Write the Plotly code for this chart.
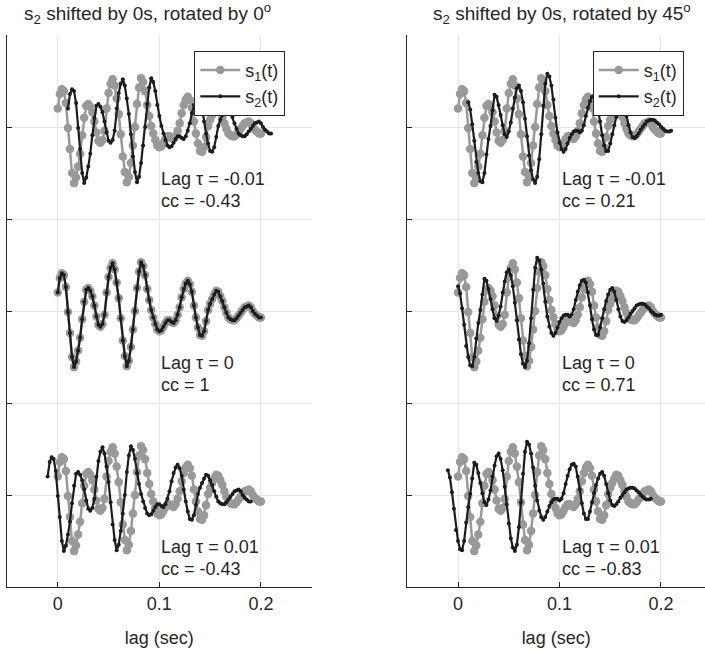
import numpy as np
import plotly.graph_objects as go

# sample times (s), 2 ms spacing
t = np.round(np.arange(101) * 0.002, 3)

# reference signal s1(t)
s1 = [0.20, 0.36, 0.41, 0.39, 0.26, -0.01, -0.24, -0.50, -0.61, -0.55,
      -0.43, -0.29, -0.09, 0.10, 0.23, 0.25, 0.22, 0.16, 0.06, -0.06,
      -0.15, -0.17, -0.14, -0.04, 0.20, 0.37, 0.47, 0.52, 0.45, 0.31,
      0.14, -0.08, -0.32, -0.49, -0.60, -0.54, -0.39, -0.20, 0.00, 0.25,
      0.43, 0.53, 0.49, 0.39, 0.24, 0.12, 0.01, -0.07, -0.14, -0.20,
      -0.22, -0.21, -0.17, -0.13, -0.10, -0.10, -0.12, -0.13, -0.10, -0.04,
      0.04, 0.15, 0.24, 0.30, 0.33, 0.29, 0.21, 0.06, -0.07, -0.18,
      -0.26, -0.27, -0.22, -0.11, 0.01, 0.08, 0.13, 0.18, 0.22, 0.21,
      0.16, 0.11, 0.04, -0.02, -0.07, -0.09, -0.10, -0.10, -0.08, -0.05,
      -0.02, 0.01, 0.04, 0.05, 0.06, 0.04, 0.00, -0.03, -0.05, -0.07,
      -0.07]

# phase-rotated (45 deg) copy of s1
s2_rot45 = [0.27, 0.19, 0.03, -0.15, -0.38, -0.50, -0.59, -0.60, -0.50, -0.30,
            -0.13, 0.01, 0.18, 0.35, 0.33, 0.24, 0.13, 0.02, -0.08, -0.11,
            -0.05, 0.05, 0.20, 0.32, 0.42, 0.45, 0.39, 0.27, 0.09, -0.10,
            -0.31, -0.47, -0.57, -0.61, -0.54, -0.35, -0.08, 0.23, 0.47, 0.58,
            0.55, 0.45, 0.30, 0.10, -0.06, -0.17, -0.24, -0.27, -0.24, -0.18,
            -0.12, -0.08, -0.05, -0.04, -0.04, -0.06, -0.04, 0.02, 0.12, 0.21,
            0.28, 0.33, 0.34, 0.31, 0.20, 0.06, -0.09, -0.20, -0.26, -0.26,
            -0.18, -0.08, 0.02, 0.11, 0.18, 0.23, 0.25, 0.21, 0.12, 0.02,
            -0.06, -0.11, -0.12, -0.10, -0.07, -0.03, 0.00, 0.03, 0.06, 0.07,
            0.08, 0.08, 0.07, 0.05, 0.03, 0.00, -0.02, -0.04, -0.05, -0.05,
            -0.04]

# rows: vertical offset, lag tau, and correlation coefficient per panel
row_offsets = [2, 0, -2]
lags = [-0.01, 0, 0.01]
lag_labels = ["-0.01", "0", "0.01"]
cc_rot0 = ["-0.43", "1", "-0.43"]
cc_rot45 = ["0.21", "0.71", "-0.83"]

panel_titles = ["s<sub>2</sub> shifted by 0s, rotated by 0<sup>o</sup>",
                "s<sub>2</sub> shifted by 0s, rotated by 45<sup>o</sup>"]

GRAY = "#999999"
BLACK = "#1c1c1c"
AXIS = "#262626"
FONT = "Liberation Sans, Arial, sans-serif"
FS = 18

W, H = 705, 652
ML, MR, MT, MB = 7, 0, 35, 65
plot_w = W - ML - MR
plot_h = H - MT - MB


def px_x(px):
    return (px - ML) / plot_w


def px_y(py):
    return 1 + (MT - py) / plot_h


fig = go.Figure()

panels = [("x", "y", s1, cc_rot0, "legend"),
          ("x2", "y2", s2_rot45, cc_rot45, "legend2")]

for p, (xa, ya, s2, ccs, leg) in enumerate(panels):
    for r, off in enumerate(row_offsets):
        fig.add_trace(go.Scatter(
            x=t, y=np.array(s1) + off, xaxis=xa, yaxis=ya,
            mode="lines+markers", name="s<sub>1</sub>(t)",
            line=dict(color=GRAY, width=2.5),
            marker=dict(color=GRAY, size=8.5),
            showlegend=(r == 0), legend=leg, legendrank=1))
        fig.add_trace(go.Scatter(
            x=t - lags[r], y=np.array(s2) + off, xaxis=xa, yaxis=ya,
            mode="lines+markers", name="s<sub>2</sub>(t)",
            line=dict(color=BLACK, width=2.2),
            marker=dict(color=BLACK, size=4),
            showlegend=(r == 0), legend=leg, legendrank=2))
        fig.add_annotation(
            x=0.1, y=off - 0.56, xref=xa, yref=ya,
            text=f"Lag \u03c4 = {lag_labels[r]}", showarrow=False,
            xanchor="left", yanchor="middle",
            font=dict(family=FONT, size=FS, color=AXIS))
        fig.add_annotation(
            x=0.1, y=off - 0.80, xref=xa, yref=ya,
            text=f"cc = {ccs[r]}", showarrow=False,
            xanchor="left", yanchor="middle",
            font=dict(family=FONT, size=FS, color=AXIS))

for cx, title in zip([147, 561.5], panel_titles):
    fig.add_annotation(
        x=px_x(cx), y=px_y(13), xref="paper", yref="paper",
        text=title, showarrow=False, xanchor="center", yanchor="middle",
        font=dict(family=FONT, size=19, color=AXIS))

x_common = dict(
    tickvals=[0, 0.1, 0.2], ticktext=["0", "0.1", "0.2"],
    showline=True, linecolor=AXIS, linewidth=1,
    ticks="inside", ticklen=5, tickcolor=AXIS,
    showgrid=True, gridcolor="#e6e6e6", gridwidth=1, zeroline=False,
    tickfont=dict(family=FONT, size=FS, color=AXIS),
    title=dict(text="lag (sec)", font=dict(family=FONT, size=FS, color=AXIS),
               standoff=18),
)
y_common = dict(
    range=[-3, 3], tickvals=[-3, -2, -1, 0, 1, 2, 3], showticklabels=False,
    showline=True, linecolor=AXIS, linewidth=1,
    ticks="inside", ticklen=5, tickcolor=AXIS,
    showgrid=True, gridcolor="#e6e6e6", gridwidth=1, zeroline=False,
)

left_dom = [0, px_x(311.7)]
right_dom = [px_x(407.3), 1]
right_max = -0.05 + 0.3 * (705 - 407.3) / (311.7 - 7.3)

legend_common = dict(
    bgcolor="white", bordercolor=AXIS, borderwidth=1,
    font=dict(family=FONT, size=FS, color=AXIS),
    xanchor="left", yanchor="top", tracegroupgap=0, itemwidth=40,
)

fig.update_layout(
    width=W, height=H,
    margin=dict(l=ML, r=MR, t=MT, b=MB),
    paper_bgcolor="white", plot_bgcolor="white",
    xaxis=dict(domain=left_dom, range=[-0.05, 0.25], anchor="y", **x_common),
    yaxis=dict(domain=[0, 1], anchor="x", **y_common),
    xaxis2=dict(domain=right_dom, range=[-0.05, right_max], anchor="y2", **x_common),
    yaxis2=dict(domain=[0, 1], anchor="x2", **y_common),
    legend=dict(x=px_x(194.3), y=px_y(50.7), **legend_common),
    legend2=dict(x=px_x(592.7), y=px_y(50.7), **legend_common),
    showlegend=True,
)

fig.write_html("out.html")
